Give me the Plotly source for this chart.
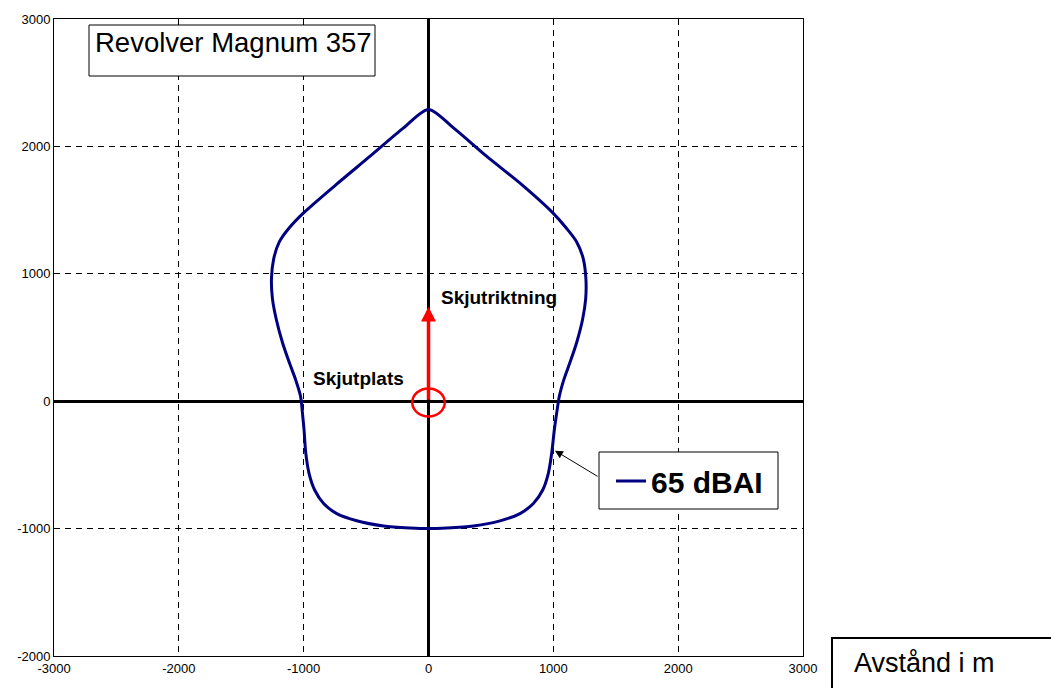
"""
Noise contour (65 dBAI) around a shooting position - Revolver Magnum 357.
"""
import plotly.graph_objects as go

# contour points (m), clockwise from the top
contour_x = [0, 200, 467, 733, 1000, 1107, 1187, 1240, 1261, 1259, 1235, 1187, 1133, 1085,
             1048, 1027, 1008, 987, 960, 915, 840, 733, 573, 360, 147, 0,
             -147, -360, -575, -735, -840, -912, -957, -983, -997, -1010, -1025, -1065,
             -1115, -1170, -1220, -1250, -1258, -1240, -1195, -1120, -1005, -740, -470,
             -200, 0]
contour_y = [2290, 2145, 1921, 1711, 1474, 1355, 1250, 1118, 961, 803, 645, 461, 303, 171,
             39, -92, -224, -408, -566, -697, -803, -882, -939, -979, -995, -1000,
             -995, -979, -938, -882, -803, -697, -566, -408, -224, -92, 39, 171,
             303, 461, 645, 803, 961, 1118, 1250, 1355, 1474, 1700, 1921,
             2145, 2290]

x_ticks = [-3000, -2000, -1000, 0, 1000, 2000, 3000]
x_labels = ["-3000", "-2000", "-1000", "0", "1000", "2000", "3000"]
y_ticks = [-2000, -1000, 0, 1000, 2000, 3000]
y_labels = ["-2000", "-1000", "0", "1000", "2000", "3000"]

FONT = "Arial, Liberation Sans, sans-serif"

fig = go.Figure()

fig.add_trace(go.Scatter(
    x=contour_x, y=contour_y,
    mode="lines",
    name="<b>65 dBAI</b>",
    line={"color": "#000080", "width": 3, "shape": "spline", "smoothing": 0.8},
    hoverinfo="skip",
))

# ── boxes ──────────────────────────────────────────────────────────────────
fig.add_shape(type="rect", xref="paper", yref="paper",
              x0=(89 - 54) / 749, x1=(375 - 54) / 749,
              y0=(656 - 76) / 637, y1=(656 - 25) / 637,
              line={"color": "black", "width": 1}, fillcolor="white", layer="above")
fig.add_shape(type="rect", xref="paper", yref="paper",
              x0=(599 - 54) / 749, x1=(778 - 54) / 749,
              y0=(656 - 509) / 637, y1=(656 - 452) / 637,
              line={"color": "black", "width": 1}, fillcolor="white", layer="above")
fig.add_shape(type="rect", xref="paper", yref="paper",
              x0=(832 - 54) / 749, x1=(1070 - 54) / 749,
              y0=(656 - 710) / 637, y1=(656 - 638) / 637,
              line={"color": "black", "width": 2}, fillcolor="white")

# red circle at the shooting position
fig.add_shape(type="circle", xref="x", yref="y", x0=-130, x1=130, y0=-120, y1=100,
              line={"color": "#ff0000", "width": 2.5}, layer="above")

# ── annotations ────────────────────────────────────────────────────────────
fig.add_annotation(x=0, y=742, ax=0, ay=0, xref="x", yref="y", axref="x", ayref="y",
                   text="", showarrow=True, arrowhead=2, arrowsize=0.85, arrowwidth=3.5,
                   arrowcolor="#ff0000")
fig.add_annotation(x=1013, y=-388, ax=1366, ay=-597, xref="x", yref="y", axref="x", ayref="y",
                   text="", showarrow=True, arrowhead=2, arrowsize=1.6, arrowwidth=1,
                   arrowcolor="black")
fig.add_annotation(x=84, y=(3000 - (297 - 19) / 0.1274), xref="x", yref="y",
                   text="<b>Skjutriktning</b>", showarrow=False, xanchor="left", yanchor="middle",
                   font={"size": 19, "color": "black"})
fig.add_annotation(x=-941, y=(3000 - (378 - 19) / 0.1274), xref="x", yref="y",
                   text="<b>Skjutplats</b>", showarrow=False, xanchor="left", yanchor="middle",
                   font={"size": 19, "color": "black"})
fig.add_annotation(x=(93 - 54) / 749, y=(656 - 42) / 637, xref="paper", yref="paper",
                   text="Revolver Magnum 357", showarrow=False, xanchor="left", yanchor="middle",
                   font={"size": 27.5, "color": "black"})
fig.add_annotation(x=(852 - 54) / 749, y=(656 - 663) / 637, xref="paper", yref="paper",
                   text="Avstånd i m", showarrow=False, xanchor="left", yanchor="middle",
                   font={"size": 27, "color": "black"})

fig.update_layout(
    width=1051, height=688,
    paper_bgcolor="white",
    plot_bgcolor="white",
    font={"family": FONT, "color": "black", "size": 13},
    margin={"l": 54, "r": 248, "t": 19, "b": 32},
    showlegend=True,
    legend={
        "x": (611 - 54) / 749, "y": (656 - 481) / 637,
        "xanchor": "left", "yanchor": "middle",
        "bgcolor": "rgba(0,0,0,0)", "borderwidth": 0,
        "font": {"size": 30, "color": "black"},
    },
)
fig.update_xaxes(
    range=[-3000, 3000], tickvals=x_ticks, ticktext=x_labels, ticks="",
    showgrid=True, gridcolor="black", gridwidth=1, griddash="6px,5px",
    zeroline=True, zerolinecolor="black", zerolinewidth=3,
    showline=True, mirror=True, linecolor="black", linewidth=1,
    tickfont={"size": 13}, fixedrange=True,
)
fig.update_yaxes(
    range=[-2000, 3000], tickvals=y_ticks, ticktext=y_labels, ticks="",
    showgrid=True, gridcolor="black", gridwidth=1, griddash="6px,5px",
    zeroline=True, zerolinecolor="black", zerolinewidth=3,
    showline=True, mirror=True, linecolor="black", linewidth=1,
    tickfont={"size": 13}, fixedrange=True,
)

fig.write_html("out.html", config={"displayModeBar": False},
               post_script="document.body.style.margin='0px';")
